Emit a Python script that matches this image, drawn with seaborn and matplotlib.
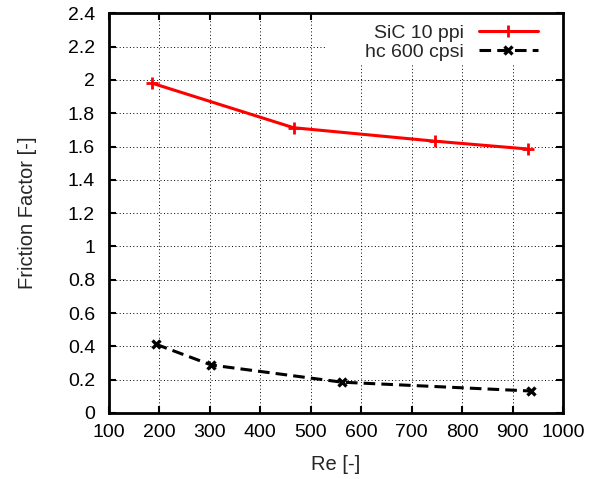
import numpy as np
import pandas as pd
import seaborn as sns
import matplotlib.pyplot as plt
from matplotlib.patches import Rectangle

# values
re_sic = [186, 466, 747, 931]
f_sic = [1.98, 1.713, 1.632, 1.585]
re_hc = [193, 303, 562, 936]
f_hc = [0.413, 0.288, 0.185, 0.132]

x_ticks = [100, 200, 300, 400, 500, 600, 700, 800, 900, 1000]
y_ticks = [0, 0.2, 0.4, 0.6, 0.8, 1, 1.2, 1.4, 1.6, 1.8, 2, 2.2, 2.4]

sns.set_theme(style="white")
plt.rcParams['font.family'] = ['Liberation Sans', 'DejaVu Sans']

fig, ax = plt.subplots(figsize=(5.91, 4.79), dpi=100)
fig.subplots_adjust(left=0.1844, right=0.9526, bottom=0.1378, top=0.9722)

sns.lineplot(x=re_sic, y=f_sic, ax=ax, color='red', marker='+', markersize=8,
             markeredgewidth=2, markeredgecolor='red', linewidth=2.2,
             label='SiC 10 ppi', sort=False)
sns.lineplot(x=re_hc, y=f_hc, ax=ax, color='black', marker='x', markersize=6,
             markeredgewidth=2.4, markeredgecolor='black', linewidth=2.2,
             linestyle=(0, (3.8, 2)), label='hc 600 cpsi', sort=False)

ax.set_xlim(100, 1000)
ax.set_ylim(0, 2.4)
ax.set_xticks(x_ticks)
ax.set_yticks(y_ticks)
ax.set_xticklabels([str(v) for v in x_ticks])
ax.set_yticklabels(['%g' % v for v in y_ticks])

ax.grid(True, color='black', linestyle=(0, (1, 2.5)), linewidth=0.7)
ax.set_axisbelow(True)

for s in ax.spines.values():
    s.set_visible(True)
    s.set_color('black')
    s.set_linewidth(2)

ax.tick_params(axis='both', which='major', direction='in', length=5, width=1.5,
               top=True, right=True, bottom=True, left=True,
               labelsize=14, colors='black')
ax.tick_params(axis='x', pad=8)
ax.tick_params(axis='y', pad=10)

ax.set_xlabel('Re [-]', fontsize=14.5, labelpad=10)
ax.set_ylabel('Friction Factor [-]', fontsize=14.5, labelpad=22.5)

# white area behind the key, as gnuplot does
ax.add_patch(Rectangle((0.476, 0.87), 0.524, 0.13, transform=ax.transAxes,
                       facecolor='white', edgecolor='none', zorder=1))

leg = ax.legend(loc='upper right', bbox_to_anchor=(0.945, 0.9725), markerfirst=False,
                frameon=False, handlelength=3.05, handletextpad=0.77,
                labelspacing=0.06, borderaxespad=0, borderpad=0, fontsize=14)

fig.savefig('out.png', dpi=100)
